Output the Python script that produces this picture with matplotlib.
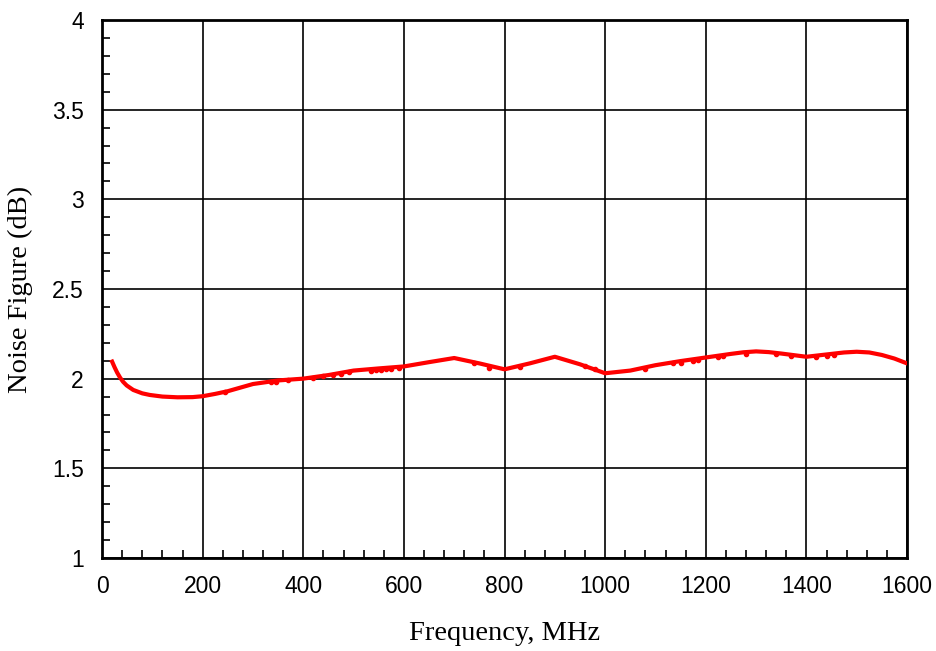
import matplotlib
matplotlib.use("Agg")
import matplotlib.pyplot as plt
from matplotlib.ticker import MultipleLocator

freq = [20, 25, 30, 36, 42, 49, 62, 80, 95, 120, 150, 180, 200, 225, 250, 300, 350, 400, 450,
        500, 550, 600, 650, 700, 750, 800, 850, 900, 950, 1000, 1050, 1100, 1150, 1200, 1250,
        1275, 1300, 1325, 1350, 1400, 1450, 1475, 1500, 1525, 1550, 1575, 1600]
nf = [2.095, 2.063, 2.034, 2.005, 1.982, 1.962, 1.937, 1.918, 1.909, 1.90, 1.896, 1.897,
      1.902, 1.915, 1.93, 1.97, 1.99, 2.00, 2.02, 2.045, 2.057, 2.068, 2.092, 2.115, 2.085,
      2.052, 2.085, 2.122, 2.08, 2.03, 2.045, 2.075, 2.098, 2.118, 2.138, 2.147, 2.152,
      2.148, 2.14, 2.122, 2.138, 2.146, 2.15, 2.146, 2.132, 2.112, 2.085]

pts_x = [245, 335, 345, 370, 420, 440, 460, 475, 490, 535, 545, 555, 565, 575, 590,
         740, 770, 830, 960, 980, 1080, 1135, 1150, 1175, 1185, 1225, 1235, 1280,
         1340, 1370, 1420, 1440, 1455]
pts_y = [1.925, 1.98, 1.983, 1.99, 2.005, 2.012, 2.02, 2.028, 2.035, 2.045, 2.048, 2.05,
         2.052, 2.053, 2.058, 2.085, 2.06, 2.065, 2.07, 2.055, 2.055, 2.085, 2.09, 2.10,
         2.105, 2.12, 2.125, 2.14, 2.135, 2.125, 2.12, 2.125, 2.13]

fig = plt.figure(figsize=(9.37, 6.51), dpi=100)
ax = fig.add_axes([0.1089, 0.1429, 0.968 - 0.1089, 0.9693 - 0.1429])

ax.plot(pts_x, pts_y, 'o', color='red', markersize=3, zorder=3)
ax.plot(freq, nf, color='red', linewidth=3, zorder=4, solid_joinstyle='round')

ax.set_xlim(0, 1600)
ax.set_ylim(1, 4)
ax.xaxis.set_major_locator(MultipleLocator(200))
ax.xaxis.set_minor_locator(MultipleLocator(40))
ax.yaxis.set_major_locator(MultipleLocator(0.5))
ax.yaxis.set_minor_locator(MultipleLocator(0.1))
ax.grid(True, which='major', color='black', linewidth=1.2)
ax.tick_params(which='both', direction='in', top=False, right=False)
ax.tick_params(which='major', length=0)
ax.tick_params(axis='x', which='major', pad=12)
ax.tick_params(axis='y', which='major', pad=13)
ax.tick_params(which='minor', length=6, width=1.2)
for s in ax.spines.values():
    s.set_linewidth(2)

ax.set_yticks([1, 1.5, 2, 2.5, 3, 3.5, 4])
ax.set_yticklabels(['1', '1.5', '2', '2.5', '3', '3.5', '4'])
for lab in ax.get_xticklabels() + ax.get_yticklabels():
    lab.set_fontfamily('Liberation Sans')
    lab.set_fontsize(16.5)

ax.set_xlabel('Frequency, MHz', family='Liberation Serif', fontsize=20.5, labelpad=17)
ax.set_ylabel('Noise Figure (dB)', family='Liberation Serif', fontsize=20.5, labelpad=14)

fig.savefig('out.png', dpi=100)
